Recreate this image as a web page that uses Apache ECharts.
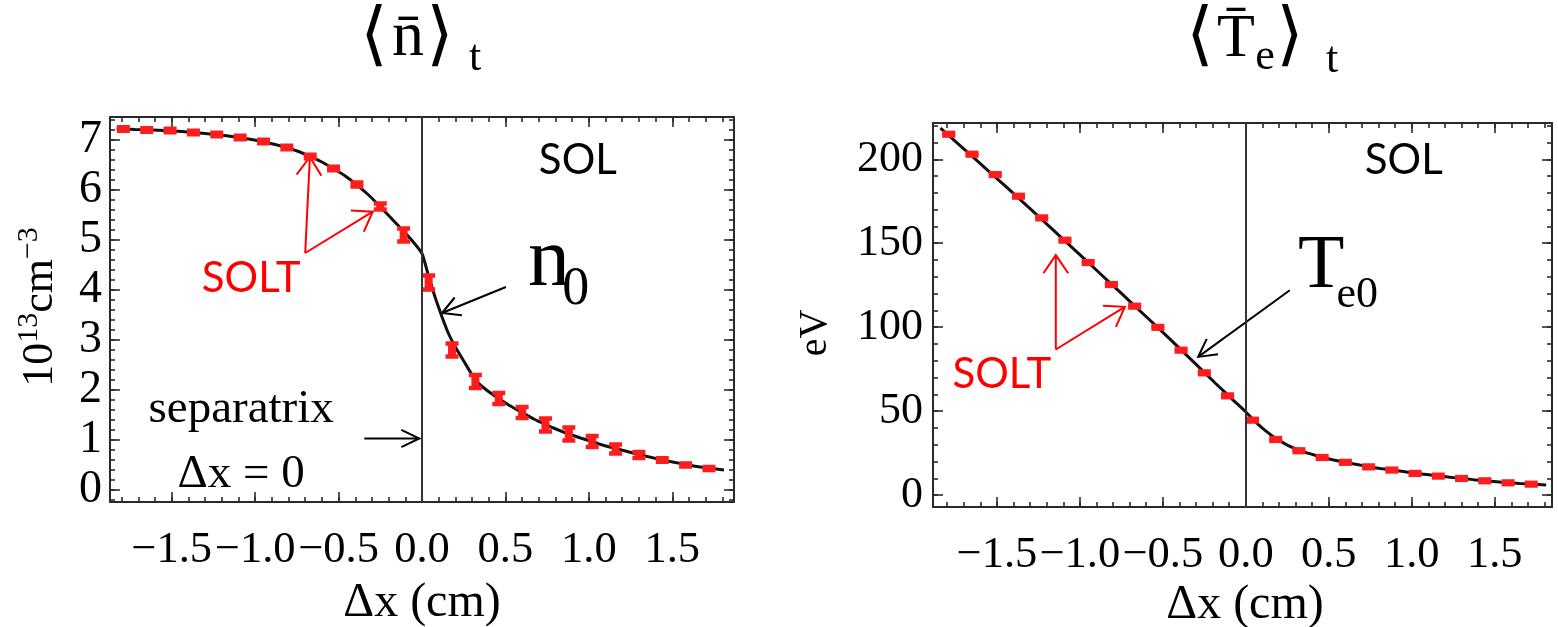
<!DOCTYPE html>
<html>
<head>
<meta charset="utf-8">
<script src="https://cdn.jsdelivr.net/npm/echarts@6/dist/echarts.min.js"></script>
<style>
  html, body { margin: 0; padding: 0; background: #fff; }
  #chart { width: 1558px; height: 627px; }
</style>
</head>
<body>
<div id="chart"></div>
<script>
// Radial position of the SOLT samples, Δx (cm) from the separatrix
const dx = [-1.79, -1.65, -1.51, -1.37, -1.23, -1.09, -0.95, -0.81, -0.67, -0.53, -0.39, -0.25, -0.11,
            0.04, 0.18, 0.32, 0.46, 0.60, 0.74, 0.88, 1.02, 1.16, 1.30, 1.44, 1.58, 1.72];

// Time-averaged density <n>_t (10^13 cm^-3) and its error bar half-width
const nMean = [7.22, 7.20, 7.19, 7.15, 7.11, 7.05, 6.97, 6.85, 6.67, 6.43, 6.11, 5.67, 5.10,
               4.15, 2.80, 2.17, 1.83, 1.55, 1.30, 1.12, 0.97, 0.82, 0.70, 0.60, 0.50, 0.43];
const nErr  = [0.035, 0.035, 0.035, 0.035, 0.035, 0.035, 0.035, 0.035, 0.035, 0.035, 0.04, 0.06, 0.13,
               0.14, 0.13, 0.13, 0.11, 0.11, 0.13, 0.13, 0.11, 0.09, 0.06, 0.035, 0.03, 0.03];

// Time-averaged electron temperature <Te>_t (eV) and its error bar half-width
const teMean = [214.9, 203.0, 190.9, 178.0, 165.1, 151.8, 138.5, 125.4, 112.5, 99.9, 86.3, 72.8, 59.1,
                44.6, 33.1, 26.4, 22.4, 19.5, 16.8, 14.9, 12.9, 11.3, 9.9, 8.5, 7.3, 6.5];
const teErr  = [0.8, 0.8, 0.8, 0.8, 0.8, 0.8, 0.8, 0.8, 0.8, 0.8, 0.8, 0.8, 0.8,
                0.8, 0.8, 0.8, 0.8, 0.8, 0.8, 0.8, 0.8, 0.8, 0.8, 0.8, 0.8, 0.8];

// Fitted profiles (black curves)
const nFitX = [-1.83, -1.72, -1.58, -1.44, -1.30, -1.16, -1.02, -0.88, -0.74, -0.60, -0.46, -0.32, -0.22, -0.14,
               -0.07, 0.0, 0.04, 0.08, 0.12, 0.16, 0.20, 0.25, 0.32, 0.39, 0.46, 0.53, 0.60, 0.67, 0.74, 0.81,
               0.88, 0.95, 1.02, 1.09, 1.16, 1.23, 1.30, 1.37, 1.44, 1.51, 1.58, 1.65, 1.72, 1.81];
const nFitY = [7.23, 7.21, 7.195, 7.17, 7.13, 7.08, 7.01, 6.91, 6.77, 6.56, 6.28, 5.90, 5.56, 5.28,
               5.03, 4.73, 4.27, 3.84, 3.46, 3.12, 2.86, 2.58, 2.20, 1.99, 1.83, 1.68, 1.55, 1.42, 1.31, 1.21,
               1.12, 1.04, 0.97, 0.89, 0.83, 0.77, 0.71, 0.655, 0.60, 0.555, 0.51, 0.47, 0.44, 0.40];
const teFitX = [-1.84, -1.72, -1.58, -1.44, -1.30, -1.16, -1.02, -0.88, -0.74, -0.60, -0.46, -0.32, -0.18,
                -0.07, 0.0, 0.06, 0.12, 0.18, 0.25, 0.32, 0.39, 0.46, 0.53, 0.60, 0.67, 0.74, 0.81, 0.88,
                0.95, 1.02, 1.09, 1.16, 1.23, 1.30, 1.37, 1.44, 1.51, 1.58, 1.65, 1.72, 1.81];
const teFitY = [218.5, 208.0, 195.6, 183.2, 170.6, 157.8, 145.0, 132.1, 119.2, 106.2, 93.2, 79.8, 66.3,
                56.0, 49.5, 43.5, 38.2, 33.8, 29.8, 26.8, 24.5, 22.5, 20.9, 19.5, 18.2, 16.9, 15.8, 14.9,
                14.0, 13.0, 12.2, 11.4, 10.6, 9.9, 9.2, 8.6, 8.0, 7.4, 6.9, 6.5, 6.0];

// Tick labels
const xTicks  = [-1.5, -1.0, -0.5, 0.0, 0.5, 1.0, 1.5];
const nTicks  = [0, 1, 2, 3, 4, 5, 6, 7];
const teTicks = [0, 50, 100, 150, 200];

const SERIF = "'Liberation Serif', 'Times New Roman', 'DejaVu Serif', serif";
const SANS = "Lato, 'Open Sans', 'Liberation Sans', sans-serif";
const FRAME = '#2a2a2a';
const RED = '#ff0000';
const MARK = '#ff1c1c';

function stepList(from, to, step) {
  const out = [];
  for (let v = from; v <= to + 1e-9; v += step) out.push(Math.round(v * 1000) / 1000);
  return out;
}
const xMinor  = stepList(-1.8, 1.8, 0.1);
const nMinor  = stepList(-0.2, 7.4, 0.2);
const teMinor = stepList(0, 220, 10);

const fmtX = v => (v < 0 ? '\u2212' : '') + Math.abs(v).toFixed(1);

// Four axes per dimension: labelled major, minor, mirrored major, mirrored minor
function frameAxes(isX, gi, range, major, minor, label) {
  const sides = isX ? ['bottom', 'top'] : ['left', 'right'];
  const out = [];
  sides.forEach((p, side) => {
    [major, minor].forEach((vals, k) => {
      out.push({
        gridIndex: gi, type: 'value', position: p, min: range[0], max: range[1],
        splitLine: { show: false },
        axisPointer: { show: false },
        axisLine: { show: k === 0, onZero: false, lineStyle: { color: FRAME, width: 2 } },
        axisTick: { show: true, inside: true, length: k === 0 ? 10 : 5, customValues: vals,
                    lineStyle: { color: FRAME, width: 1.6 } },
        axisLabel: (side === 0 && k === 0)
          ? Object.assign({ customValues: major, showMinLabel: true, showMaxLabel: true, hideOverlap: false }, label)
          : { show: false }
      });
    });
  });
  return out;
}

const nRange = { x: [-1.87, 1.87], y: [-0.24, 7.46] };
const teRange = { x: [-1.885, 1.845], y: [-7.1, 221.6] };

const labelX = { show: true, margin: 26, fontSize: 44.5, fontFamily: SERIF, color: '#000', formatter: fmtX };
const labelNY = { show: true, margin: 8, fontSize: 46, fontFamily: SERIF, color: '#000', formatter: v => String(v) };
const labelTY = { show: true, margin: 10, fontSize: 44, fontFamily: SERIF, color: '#000', formatter: v => String(v) };

const xAxes = [].concat(
  frameAxes(true, 0, nRange.x, xTicks, xMinor, labelX),
  frameAxes(true, 1, teRange.x, xTicks, xMinor, labelX)
);
const yAxes = [].concat(
  frameAxes(false, 0, nRange.y, nTicks, nMinor, labelNY),
  frameAxes(false, 1, teRange.y, teTicks, teMinor, labelTY)
);

// Error-bar marker: a red stem with caps at value ± error
function errorMark(params, api) {
  const x = api.value(0), y = api.value(1), e = api.value(2);
  const top = api.coord([x, y + e]);
  const bot = api.coord([x, y - e]);
  const w = 13, cap = 4.5, stem = 8;
  return {
    type: 'group',
    children: [
      { type: 'rect', shape: { x: top[0] - stem / 2, y: top[1], width: stem, height: bot[1] - top[1] }, style: { fill: MARK } },
      { type: 'rect', shape: { x: top[0] - w / 2, y: top[1] - cap / 2, width: w, height: cap }, style: { fill: MARK } },
      { type: 'rect', shape: { x: bot[0] - w / 2, y: bot[1] - cap / 2, width: w, height: cap }, style: { fill: MARK } }
    ]
  };
}

const zip2 = (a, b) => a.map((v, i) => [v, b[i]]);
const zip3 = (a, b, c) => a.map((v, i) => [v, b[i], c[i]]);

const separatrix = {
  silent: true, symbol: ['none', 'none'],
  label: { show: false },
  lineStyle: { color: '#333', width: 2, type: 'solid' },
  data: [{ xAxis: 0 }]
};

const chart = echarts.init(document.getElementById('chart'), null, { renderer: 'canvas' });

chart.setOption({
  animation: false,
  backgroundColor: '#fff',
  grid: [
    { left: 110, top: 117, width: 624, height: 385 },
    { left: 933, top: 123, width: 619, height: 384 }
  ],
  xAxis: xAxes,
  yAxis: yAxes,
  series: [
    { type: 'line', xAxisIndex: 0, yAxisIndex: 0, data: zip2(nFitX, nFitY), showSymbol: false,
      smooth: 0.15, lineStyle: { color: '#111', width: 3 }, z: 2, markLine: separatrix },
    { type: 'custom', xAxisIndex: 0, yAxisIndex: 0, data: zip3(dx, nMean, nErr), renderItem: errorMark, z: 3 },
    { type: 'line', xAxisIndex: 4, yAxisIndex: 4, data: zip2(teFitX, teFitY), showSymbol: false,
      smooth: 0.15, lineStyle: { color: '#111', width: 3 }, z: 2, markLine: separatrix },
    { type: 'custom', xAxisIndex: 4, yAxisIndex: 4, data: zip3(dx, teMean, teErr), renderItem: errorMark, z: 3 }
  ]
});

// Annotations placed in data coordinates of each panel
const PN = (x, y) => chart.convertToPixel({ seriesIndex: 0 }, [x, y]);
const PT = (x, y) => chart.convertToPixel({ seriesIndex: 2 }, [x, y]);

function arrow(p0, p1, color, head, spread, width) {
  const ang = Math.atan2(p1[1] - p0[1], p1[0] - p0[0]);
  const a1 = ang + Math.PI - spread, a2 = ang + Math.PI + spread;
  return [
    { type: 'line', shape: { x1: p0[0], y1: p0[1], x2: p1[0], y2: p1[1] }, style: { stroke: color, lineWidth: width } },
    { type: 'polyline', shape: { points: [
        [p1[0] + head * Math.cos(a1), p1[1] + head * Math.sin(a1)], p1,
        [p1[0] + head * Math.cos(a2), p1[1] + head * Math.sin(a2)]] },
      style: { stroke: color, lineWidth: width, fill: 'none' } }
  ];
}

function text(p, str, size, family, color, align, extra) {
  return Object.assign({
    type: 'text', x: p[0], y: p[1],
    style: { text: str, fontSize: size, fontFamily: family, fill: color, align: align || 'center', verticalAlign: 'middle' }
  }, extra || {});
}

const g = [];
// Density panel
g.push(text(PN(0.934, 6.6), 'SOL', 42, SANS, '#000'));
g.push(text(PN(-1.024, 4.24), 'SOLT', 42, SANS, RED));
g.push(...arrow(PN(-0.70, 4.74), PN(-0.672, 6.66), RED, 22, 0.6, 2));
g.push(...arrow(PN(-0.70, 4.74), PN(-0.295, 5.566), RED, 22, 0.6, 2));
g.push(text(PN(0.635, 4.54), 'n', 84, SERIF, '#000', 'left'));
g.push(text(PN(0.84, 4.0), '0', 54, SERIF, '#000', 'left'));
g.push(...arrow(PN(0.503, 4.06), PN(0.12, 3.54), '#000', 20, 0.5, 2));
g.push(text(PN(-1.084, 1.61), 'separatrix', 47, SERIF, '#000'));
g.push(text(PN(-1.084, 0.31), '\u0394x = 0', 47, SERIF, '#000'));
g.push(...arrow(PN(-0.346, 1.03), PN(-0.016, 1.03), '#000', 20, 0.45, 2));

// Temperature panel
g.push(text(PT(0.952, 199.4), 'SOL', 42, SANS, '#000'));
g.push(text(PT(-1.47, 72), 'SOLT', 42, SANS, RED));
g.push(...arrow(PT(-1.145, 86.7), PT(-1.145, 142.9), RED, 22, 0.6, 2));
g.push(...arrow(PT(-1.145, 86.7), PT(-0.729, 112.1), RED, 22, 0.6, 2));
g.push(text(PT(0.315, 135.9), 'T', 76, SERIF, '#000', 'left'));
g.push(text(PT(0.546, 119), 'e0', 44, SERIF, '#000', 'left'));
g.push(...arrow(PT(0.265, 122), PT(-0.287, 82.3), '#000', 20, 0.5, 2));

// Panel titles
const BRACKET = "'DejaVu Sans', 'DejaVu Serif', serif";
g.push(text([374, 39], '\u27E8', 70, BRACKET, '#000', 'center', { style: { text: '\u27E8', fontSize: 70, fontFamily: BRACKET, fontWeight: 200, fill: '#000', align: 'center', verticalAlign: 'middle' } }));
g.push(text([408, 38], 'n\u0304', 64, SERIF, '#000'));
g.push(text([440, 39], '\u27E9', 70, BRACKET, '#000', 'center', { style: { text: '\u27E9', fontSize: 70, fontFamily: BRACKET, fontWeight: 200, fill: '#000', align: 'center', verticalAlign: 'middle' } }));
g.push(text([475, 58], 't', 44, SERIF, '#000'));

g.push(text([1200, 39], '\u27E8', 70, BRACKET, '#000', 'center', { style: { text: '\u27E8', fontSize: 70, fontFamily: BRACKET, fontWeight: 200, fill: '#000', align: 'center', verticalAlign: 'middle' } }));
g.push(text([1236, 40], 'T\u0304', 62, SERIF, '#000'));
g.push(text([1265, 57], 'e', 44, SERIF, '#000'));
g.push(text([1290, 39], '\u27E9', 70, BRACKET, '#000', 'center', { style: { text: '\u27E9', fontSize: 70, fontFamily: BRACKET, fontWeight: 200, fill: '#000', align: 'center', verticalAlign: 'middle' } }));
g.push(text([1332, 60], 't', 44, SERIF, '#000'));

// Axis names
g.push({
  type: 'text', x: 36, y: 307, rotation: Math.PI / 2,
  style: {
    text: '{b|10}{s|13}{b|cm}{s|\u22123}', align: 'center', verticalAlign: 'middle',
    rich: {
      b: { fontSize: 44, fontFamily: SERIF, fill: '#000', verticalAlign: 'bottom', lineHeight: 52 },
      s: { fontSize: 30, fontFamily: SERIF, fill: '#000', verticalAlign: 'bottom', lineHeight: 52, padding: [0, 0, 18, 0] }
    }
  }
});
g.push(text([815, 333], 'eV', 40, SERIF, '#000', 'center', { rotation: Math.PI / 2 }));
g.push(text([422, 603], '\u0394x (cm)', 48, SERIF, '#000'));
g.push(text([1245, 605], '\u0394x (cm)', 48, SERIF, '#000'));

chart.setOption({ graphic: g });
</script>
</body>
</html>
